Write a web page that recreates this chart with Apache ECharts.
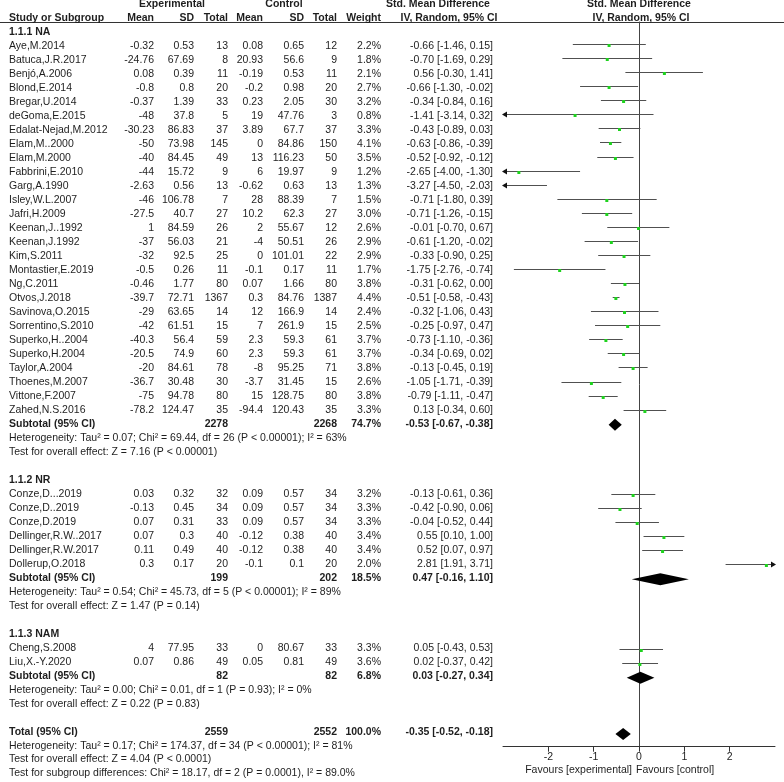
<!DOCTYPE html>
<html><head><meta charset="utf-8">
<script src="https://cdn.jsdelivr.net/npm/echarts@6/dist/echarts.min.js"></script>
<style>html,body{margin:0;padding:0;background:#fff}#c{width:784px;height:782px}</style>
</head><body><div id="c"></div>
<script>
// ---------- DATA ----------
const groupLabels = ['1.1.1 NA', '1.1.2 NR', '1.1.3 NAM'];
const groupSizes = [27, 6, 2];
const studyNames = ['Aye,M.2014','Batuca,J.R.2017','Benjó,A.2006','Blond,E.2014','Bregar,U.2014','deGoma,E.2015','Edalat-Nejad,M.2012','Elam,M..2000','Elam,M.2000','Fabbrini,E.2010','Garg,A.1990','Isley,W.L.2007','Jafri,H.2009','Keenan,J..1992','Keenan,J.1992','Kim,S.2011','Montastier,E.2019','Ng,C.2011','Otvos,J.2018','Savinova,O.2015','Sorrentino,S.2010','Superko,H..2004','Superko,H.2004','Taylor,A.2004','Thoenes,M.2007','Vittone,F.2007','Zahed,N.S.2016',
  'Conze,D...2019','Conze,D..2019','Conze,D.2019','Dellinger,R.W..2017','Dellinger,R.W.2017','Dollerup,O.2018',
  'Cheng,S.2008','Liu,X.-Y.2020'];
const expMean = [-0.32,-24.76,0.08,-0.8,-0.37,-48,-30.23,-50,-40,-44,-2.63,-46,-27.5,1,-37,-32,-0.5,-0.46,-39.7,-29,-42,-40.3,-20.5,-20,-36.7,-75,-78.2, 0.03,-0.13,0.07,0.07,0.11,0.3, 4,0.07];
const expSD = [0.53,67.69,0.39,0.8,1.39,37.8,86.83,73.98,84.45,15.72,0.56,106.78,40.7,84.59,56.03,92.5,0.26,1.77,72.71,63.65,61.51,56.4,74.9,84.61,30.48,94.78,124.47, 0.32,0.45,0.31,0.3,0.49,0.17, 77.95,0.86];
const expN = [13,8,11,20,33,5,37,145,49,9,13,7,27,26,21,25,11,80,1367,14,15,59,60,78,30,80,35, 32,34,33,40,40,20, 33,49];
const ctlMean = [0.08,20.93,-0.19,-0.2,0.23,19,3.89,0,13,6,-0.62,28,10.2,2,-4,0,-0.1,0.07,0.3,12,7,2.3,2.3,-8,-3.7,15,-94.4, 0.09,0.09,0.09,-0.12,-0.12,-0.1, 0,0.05];
const ctlSD = [0.65,56.6,0.53,0.98,2.05,47.76,67.7,84.86,116.23,19.97,0.63,88.39,62.3,55.67,50.51,101.01,0.17,1.66,84.76,166.9,261.9,59.3,59.3,95.25,31.45,128.75,120.43, 0.57,0.57,0.57,0.38,0.38,0.1, 80.67,0.81];
const ctlN = [12,9,11,20,30,3,37,150,50,9,13,7,27,12,26,22,11,80,1387,14,15,61,61,71,15,80,35, 34,34,34,40,40,20, 33,49];
const weight = [2.2,1.8,2.1,2.7,3.2,0.8,3.3,4.1,3.5,1.2,1.3,1.5,3.0,2.6,2.9,2.9,1.7,3.8,4.4,2.4,2.5,3.7,3.7,3.8,2.6,3.8,3.3, 3.2,3.3,3.3,3.4,3.4,2.0, 3.3,3.6];
const smd = [-0.66,-0.70,0.56,-0.66,-0.34,-1.41,-0.43,-0.63,-0.52,-2.65,-3.27,-0.71,-0.71,-0.01,-0.61,-0.33,-1.75,-0.31,-0.51,-0.32,-0.25,-0.73,-0.34,-0.13,-1.05,-0.79,0.13, -0.13,-0.42,-0.04,0.55,0.52,2.81, 0.05,0.02];
const ciLow = [-1.46,-1.69,-0.30,-1.30,-0.84,-3.14,-0.89,-0.86,-0.92,-4.00,-4.50,-1.80,-1.26,-0.70,-1.20,-0.90,-2.76,-0.62,-0.58,-1.06,-0.97,-1.10,-0.69,-0.45,-1.71,-1.11,-0.34, -0.61,-0.90,-0.52,0.10,0.07,1.91, -0.43,-0.37];
const ciHigh = [0.15,0.29,1.41,-0.02,0.16,0.32,0.03,-0.39,-0.12,-1.30,-2.03,0.39,-0.15,0.67,-0.02,0.25,-0.74,0.00,-0.43,0.43,0.47,-0.36,0.02,0.19,-0.39,-0.47,0.60, 0.36,0.06,0.44,1.00,0.97,3.71, 0.53,0.42];

const subExpN = [2278, 199, 82];
const subCtlN = [2268, 202, 82];
const subWeight = [74.7, 18.5, 6.8];
const subSmd = [-0.53, 0.47, 0.03];
const subLow = [-0.67, -0.16, -0.27];
const subHigh = [-0.38, 1.10, 0.34];
const subHet = ['Heterogeneity: Tau² = 0.07; Chi² = 69.44, df = 26 (P < 0.00001); I² = 63%',
  'Heterogeneity: Tau² = 0.54; Chi² = 45.73, df = 5 (P < 0.00001); I² = 89%',
  'Heterogeneity: Tau² = 0.00; Chi² = 0.01, df = 1 (P = 0.93); I² = 0%'];
const subTest = ['Test for overall effect: Z = 7.16 (P < 0.00001)',
  'Test for overall effect: Z = 1.47 (P = 0.14)',
  'Test for overall effect: Z = 0.22 (P = 0.83)'];
const totalExpN = 2559, totalCtlN = 2552, totalWeight = 100.0;
const totalSmd = -0.35, totalLow = -0.52, totalHigh = -0.18;
const totalNotes = ['Heterogeneity: Tau² = 0.17; Chi² = 174.37, df = 34 (P < 0.00001); I² = 81%',
  'Test for overall effect: Z = 4.04 (P < 0.0001)',
  'Test for subgroup differences: Chi² = 18.17, df = 2 (P = 0.0001), I² = 89.0%'];
const axisTicks = [-2, -1, 0, 1, 2];
const axisMin = -3, axisMax = 3;

// ---------- LAYOUT ----------
const FONT_FAMILY = '"Liberation Sans", Arial, sans-serif';
const FS = 10.5;
const ROW0 = 32, STEP = 14.06;
const T_MIN = -2.2, T_MAX = 53.6;
const F_TOP = 22, F_BOTTOM = 746.7, F_LEFT = 503, F_RIGHT = 775;
const F_MIN = (F_TOP - ROW0) / STEP, F_MAX = (F_BOTTOM - ROW0) / STEP;
const col = {name: 9, eMean: 154, eSD: 194, eN: 228, cMean: 263, cSD: 304, cN: 337, w: 381, ci: 493};

const fmt2 = v => v.toFixed(2);
const ciText = (m, l, h) => fmt2(m) + ' [' + fmt2(l) + ', ' + fmt2(h) + ']';

// ---------- BUILD ROWS ----------
const cells = [];   // [x, row, text, align, bold]
const studyPts = []; // [smd, lo, hi, row]
const diamonds = []; // [smd, lo, hi, row, halfHeight]
cells.push([172, -1.95, 'Experimental', 'center', 1]);
cells.push([284, -1.95, 'Control', 'center', 1]);
cells.push([438, -1.95, 'Std. Mean Difference', 'center', 1]);
cells.push([639, -1.95, 'Std. Mean Difference', 'center', 1]);
cells.push([col.name, -1, 'Study or Subgroup', 'left', 1]);
cells.push([col.eMean, -1, 'Mean', 'right', 1]);
cells.push([col.eSD, -1, 'SD', 'right', 1]);
cells.push([col.eN, -1, 'Total', 'right', 1]);
cells.push([col.cMean, -1, 'Mean', 'right', 1]);
cells.push([col.cSD, -1, 'SD', 'right', 1]);
cells.push([col.cN, -1, 'Total', 'right', 1]);
cells.push([col.w, -1, 'Weight', 'right', 1]);
cells.push([449, -1, 'IV, Random, 95% CI', 'center', 1]);
cells.push([641, -1, 'IV, Random, 95% CI', 'center', 1]);

let row = 0, idx = 0;
groupLabels.forEach((lab, g) => {
  cells.push([col.name, row, lab, 'left', 1]); row++;
  for (let k = 0; k < groupSizes[g]; k++, idx++, row++) {
    cells.push([col.name, row, studyNames[idx], 'left', 0]);
    cells.push([col.eMean, row, String(expMean[idx]), 'right', 0]);
    cells.push([col.eSD, row, String(expSD[idx]), 'right', 0]);
    cells.push([col.eN, row, String(expN[idx]), 'right', 0]);
    cells.push([col.cMean, row, String(ctlMean[idx]), 'right', 0]);
    cells.push([col.cSD, row, String(ctlSD[idx]), 'right', 0]);
    cells.push([col.cN, row, String(ctlN[idx]), 'right', 0]);
    cells.push([col.w, row, weight[idx].toFixed(1) + '%', 'right', 0]);
    cells.push([col.ci, row, ciText(smd[idx], ciLow[idx], ciHigh[idx]), 'right', 0]);
    studyPts.push([smd[idx], ciLow[idx], ciHigh[idx], row]);
  }
  cells.push([col.name, row, 'Subtotal (95% CI)', 'left', 1]);
  cells.push([col.eN, row, String(subExpN[g]), 'right', 1]);
  cells.push([col.cN, row, String(subCtlN[g]), 'right', 1]);
  cells.push([col.w, row, subWeight[g].toFixed(1) + '%', 'right', 1]);
  cells.push([col.ci, row, ciText(subSmd[g], subLow[g], subHigh[g]), 'right', 1]);
  diamonds.push([subSmd[g], subLow[g], subHigh[g], row]);
  row++;
  cells.push([col.name, row, subHet[g], 'left', 0]); row++;
  cells.push([col.name, row, subTest[g], 'left', 0]); row++;
  row++; // blank
});
cells.push([col.name, row, 'Total (95% CI)', 'left', 1]);
cells.push([col.eN, row, String(totalExpN), 'right', 1]);
cells.push([col.cN, row, String(totalCtlN), 'right', 1]);
cells.push([col.w, row, totalWeight.toFixed(1) + '%', 'right', 1]);
cells.push([col.ci, row, ciText(totalSmd, totalLow, totalHigh), 'right', 1]);
diamonds.push([totalSmd, totalLow, totalHigh, row]);
row++;
totalNotes.forEach(t => { cells.push([col.name, row, t, 'left', 0]); row++; });

// ---------- CHART ----------
const chart = echarts.init(document.getElementById('c'), null, {renderer: 'canvas'});
const TEXT_COLOR = '#1e1e1e';

function renderCell(params, api) {
  const d = cells[params.dataIndex];
  const p = api.coord([d[0], d[1]]);
  return {
    type: 'text',
    x: p[0], y: p[1],
    style: {
      text: d[2], fill: TEXT_COLOR,
      font: (d[4] ? 'bold ' : '') + FS + 'px ' + FONT_FAMILY,
      align: d[3], verticalAlign: 'middle'
    }
  };
}

function renderCI(params, api) {
  const m = api.value(0), lo = api.value(1), hi = api.value(2), r = api.value(3);
  const a = Math.max(lo, axisMin), b = Math.min(hi, axisMax);
  const pa = api.coord([a, r]), pb = api.coord([b, r]), pm = api.coord([m, r]);
  const y = Math.round(pa[1]) + 0.5 - 2;
  const ch = [{type: 'line', shape: {x1: pa[0], y1: y, x2: pb[0], y2: y}, style: {stroke: '#505050', lineWidth: 1}}];
  if (lo < axisMin) ch.push({type: 'polygon', shape: {points: [[pa[0] - 1, y], [pa[0] + 4, y - 3], [pa[0] + 4, y + 3]]}, style: {fill: '#111'}});
  if (hi > axisMax) ch.push({type: 'polygon', shape: {points: [[pb[0] + 1, y], [pb[0] - 4, y - 3], [pb[0] - 4, y + 3]]}, style: {fill: '#111'}});
  if (m >= axisMin && m <= axisMax) ch.push({type: 'rect', shape: {x: pm[0] - 1.5, y: y - 0.5, width: 3, height: 3}, style: {fill: '#1ed21e'}});
  return {type: 'group', children: ch};
}

function renderDiamond(params, api) {
  const m = api.value(0), lo = api.value(1), hi = api.value(2), r = api.value(3);
  const pl = api.coord([lo, r]), pr = api.coord([hi, r]), pm = api.coord([m, r]);
  const y = pm[1] - 1, h = 6;
  return {type: 'polygon', shape: {points: [[pl[0], y], [pm[0], y - h], [pr[0], y], [pm[0], y + h]]}, style: {fill: '#000'}};
}

chart.setOption({
  animation: false,
  backgroundColor: '#fff',
  grid: [
    {left: 0, width: 784, top: ROW0 + STEP * T_MIN, height: STEP * (T_MAX - T_MIN), containLabel: false},
    {left: F_LEFT, width: F_RIGHT - F_LEFT, top: F_TOP, height: F_BOTTOM - F_TOP, containLabel: false}
  ],
  xAxis: [
    {gridIndex: 0, type: 'value', min: 0, max: 784, show: false},
    {gridIndex: 1, type: 'value', min: axisMin, max: axisMax, interval: 1,
      axisLine: {show: true, onZero: false, lineStyle: {color: '#333', width: 1}},
      axisTick: {show: true, length: 5, customValues: axisTicks, lineStyle: {color: '#333'}},
      axisLabel: {show: true, customValues: axisTicks, color: TEXT_COLOR, fontSize: FS, fontFamily: FONT_FAMILY, margin: 5},
      splitLine: {show: false}}
  ],
  yAxis: [
    {gridIndex: 0, type: 'value', inverse: true, min: T_MIN, max: T_MAX, show: false},
    {gridIndex: 1, type: 'value', inverse: true, min: F_MIN, max: F_MAX,
      axisLine: {show: true, onZero: true, lineStyle: {color: '#444', width: 1}},
      axisTick: {show: false}, axisLabel: {show: false}, splitLine: {show: false}}
  ],
  graphic: [
    {type: 'line', shape: {x1: 0, y1: 22.5, x2: 784, y2: 22.5}, style: {stroke: '#333', lineWidth: 1}},
    {type: 'text', x: 632, y: 770, style: {text: 'Favours [experimental]', fill: TEXT_COLOR, font: FS + 'px ' + FONT_FAMILY, align: 'right', verticalAlign: 'middle'}},
    {type: 'text', x: 636, y: 770, style: {text: 'Favours [control]', fill: TEXT_COLOR, font: FS + 'px ' + FONT_FAMILY, align: 'left', verticalAlign: 'middle'}}
  ],
  series: [
    {type: 'custom', xAxisIndex: 0, yAxisIndex: 0, data: cells.map(c => [c[0], c[1]]), renderItem: renderCell, silent: true, clip: false},
    {type: 'custom', xAxisIndex: 1, yAxisIndex: 1, data: studyPts, renderItem: renderCI, silent: true, clip: false,
      encode: {x: [0, 1, 2], y: 3}},
    {type: 'custom', xAxisIndex: 1, yAxisIndex: 1, data: diamonds, renderItem: renderDiamond, silent: true, clip: false,
      encode: {x: [0, 1, 2], y: 3}}
  ]
});
</script>
</body></html>
